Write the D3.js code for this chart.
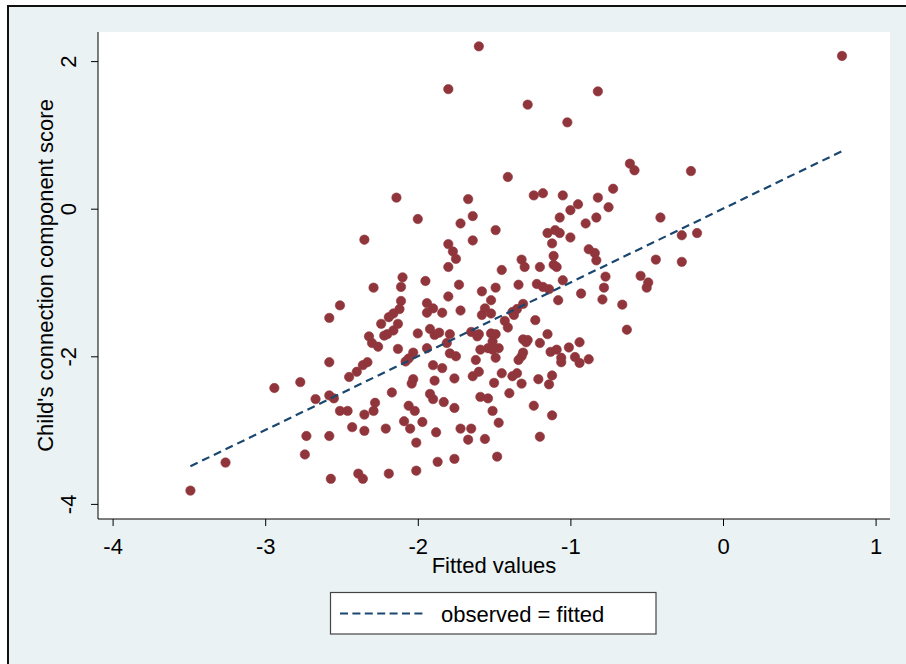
<!DOCTYPE html>
<html>
<head>
<meta charset="utf-8">
<script src="https://cdn.jsdelivr.net/npm/d3@7"></script>
<style>
  html, body { margin: 0; padding: 0; background: #ffffff; }
  svg { display: block; }
  text { font-family: "Liberation Sans", Arial, sans-serif; fill: #000; }
</style>
</head>
<body>
<div id="chart"></div>
<script>
// ---- Data ----
const xTitle = "Fitted values";
const yTitle = "Child's connection component score";
const legendLabel = "observed = fitted";
const xTicks = [-4, -3, -2, -1, 0, 1];
const yTicks = [-4, -2, 0, 2];

// fitted values (x) and observed scores (y), paired by index
const fittedValues = [
  -3.49, -3.26, -2.94, -2.77, -2.73, -2.74, -2.67, -2.58, -2.51, -2.58,
  -2.58, -2.55, -2.58, -2.57, -2.51,
  -2.14, -2.00, -1.64, -1.67, -1.72, -2.35, -1.64, -1.80, -1.77, -1.75,
  -1.80, -2.10, -2.11, -1.95, -2.29, -1.73, -1.80, -2.11, -2.12, -2.16,
  -2.19, -1.94, -1.90, -1.94, -1.84, -1.72, -2.24, -2.13, -2.16, -2.20,
  -2.22, -2.00, -1.92, -1.89, -1.86, -1.79, -1.81, -1.65, -1.61, -2.32,
  -2.30, -2.26, -2.13, -1.94, -1.79, -1.75, -2.03, -2.06, -2.08, -1.62,
  -2.33, -2.36, -2.40, -2.45, -1.90, -1.84, -2.03, -2.04, -1.89, -1.76,
  -1.64, -2.17, -1.92, -1.90, -1.83, -1.76, -1.59, -2.46, -2.28, -2.29,
  -2.35, -2.06, -2.02, -2.43, -2.35, -2.21, -2.09, -2.05, -1.97, -1.88,
  -1.72, -1.65, -1.67, -2.01, -1.87, -1.76, -2.39, -2.36, -2.19, -2.01,
  -1.80, -1.60,
  -1.41, -1.24, -1.18, -1.05, -0.82, -0.95, -1.00, -1.07, -0.83, -0.90,
  -1.49, -1.15, -1.10, -1.07, -1.00, -1.12, -0.88, -0.84, -0.83, -1.11,
  -1.11, -1.09, -1.32, -1.30, -1.20, -1.45, -0.77, -1.05, -1.22, -1.18,
  -1.14, -1.34, -1.49, -1.58, -0.93, -0.78, -0.79, -1.52, -1.08, -1.31,
  -1.35, -1.38, -1.37, -1.56, -1.58, -1.52, -1.23, -1.43, -1.41, -1.60,
  -1.52, -1.49, -1.51, -1.47, -1.31, -1.28, -1.29, -1.15, -1.20, -1.59,
  -1.54, -1.51, -1.31, -1.32, -1.34, -1.13, -1.09, -1.06, -1.06, -1.01,
  -0.97, -0.94, -0.94, -0.88, -1.49, -1.60, -1.45, -1.38, -1.35, -1.32,
  -1.50, -1.21, -1.12, -1.14, -1.40, -1.54, -1.24, -1.51, -1.47, -1.12,
  -1.56, -1.20, -1.48, -1.28, -1.02, -0.82,
  -0.61, -0.58, -0.21, -0.72, -0.75, -0.41, -0.27, -0.17, -0.44, -0.27,
  -0.54, -0.49, -0.50, -0.66, -0.63, 0.78
];
const observedScores = [
  -3.82, -3.44, -2.43, -2.35, -3.08, -3.33, -2.58, -1.48, -1.31, -2.08,
  -2.53, -2.57, -3.08, -3.66, -2.74,
  0.15, -0.14, -0.10, 0.13, -0.20, -0.42, -0.43, -0.48, -0.58, -0.68,
  -0.79, -0.93, -1.06, -0.98, -1.07, -1.03, -1.19, -1.25, -1.36, -1.42,
  -1.47, -1.28, -1.35, -1.41, -1.41, -1.38, -1.56, -1.56, -1.65, -1.70,
  -1.72, -1.69, -1.63, -1.71, -1.68, -1.70, -1.82, -1.67, -1.73, -1.73,
  -1.82, -1.87, -1.90, -1.89, -1.96, -2.00, -1.95, -2.03, -2.07, -2.05,
  -2.08, -2.12, -2.21, -2.28, -2.12, -2.16, -2.31, -2.37, -2.33, -2.30,
  -2.27, -2.49, -2.51, -2.58, -2.62, -2.70, -2.55, -2.74, -2.63, -2.74,
  -2.79, -2.67, -2.74, -2.96, -3.01, -2.98, -2.88, -2.98, -2.89, -3.03,
  -2.98, -2.98, -3.13, -3.17, -3.43, -3.39, -3.59, -3.66, -3.59, -3.55,
  1.62, 2.20,
  0.43, 0.18, 0.21, 0.18, 0.15, 0.06, -0.02, -0.12, -0.12, -0.20,
  -0.29, -0.33, -0.29, -0.33, -0.39, -0.47, -0.55, -0.60, -0.70, -0.64,
  -0.76, -0.79, -0.69, -0.79, -0.79, -0.83, -0.92, -0.97, -1.02, -1.06,
  -1.09, -1.03, -1.07, -1.12, -1.15, -1.07, -1.23, -1.24, -1.24, -1.29,
  -1.36, -1.40, -1.44, -1.35, -1.44, -1.42, -1.51, -1.52, -1.61, -1.70,
  -1.69, -1.70, -1.80, -1.89, -1.77, -1.78, -1.81, -1.70, -1.82, -1.91,
  -1.89, -1.91, -1.95, -2.00, -2.05, -1.94, -1.91, -2.02, -2.08, -1.88,
  -2.01, -2.09, -1.81, -2.04, -2.02, -2.21, -2.23, -2.27, -2.23, -2.37,
  -2.36, -2.31, -2.26, -2.38, -2.50, -2.57, -2.67, -2.74, -2.90, -2.80,
  -3.12, -3.09, -3.36, 1.41, 1.17, 1.59,
  0.61, 0.52, 0.51, 0.27, 0.02, -0.12, -0.36, -0.33, -0.69, -0.72,
  -0.91, -1.00, -1.07, -1.30, -1.64, 2.07
];
// extent of the "observed = fitted" reference line
const fitLineRange = [-3.49, 0.78];

// ---- Layout ----
const W = 906, H = 664;
const plot = { left: 98, right: 890, top: 32, bottom: 519 };
const colors = {
  graphBg: "#EAF2F3",
  marker: "#90353B",
  line: "#1A476F",
  axis: "#000000"
};
const fontSize = 22;

const svg = d3.select("#chart").append("svg")
  .attr("width", W).attr("height", H);

// page + outer frame
svg.append("rect").attr("x", 0).attr("y", 0).attr("width", W).attr("height", H).attr("fill", "#ffffff");
svg.append("rect").attr("x", 8).attr("y", 6).attr("width", W + 20).attr("height", H + 20)
  .attr("fill", colors.graphBg).attr("stroke", "#111").attr("stroke-width", 2);

// plot region
svg.append("rect")
  .attr("x", plot.left).attr("y", plot.top)
  .attr("width", plot.right - plot.left).attr("height", plot.bottom - plot.top)
  .attr("fill", "#ffffff");

const x = d3.scaleLinear().domain([-4, 1]).range([112.6, 875.6]);
const y = d3.scaleLinear().domain([-4, 2]).range([503.9, 61.1]);

// hyphen-minus tick labels, as in the reference
const tickFmt = d => String(d);

// axes
const xAxis = svg.append("g").attr("transform", `translate(0,${plot.bottom})`)
  .call(d3.axisBottom(x).tickValues(xTicks).tickSize(7).tickPadding(3).tickFormat(tickFmt));
const yAxis = svg.append("g").attr("transform", `translate(${plot.left},0)`)
  .call(d3.axisLeft(y).tickValues(yTicks).tickSize(7).tickFormat(tickFmt));

[xAxis, yAxis].forEach(g => {
  g.select(".domain").remove();
  g.selectAll(".tick line").attr("stroke", colors.axis).attr("stroke-width", 1);
  g.selectAll(".tick text").attr("font-size", fontSize).attr("fill", "#000")
    .style("font-family", '"Liberation Sans", Arial, sans-serif');
});
xAxis.selectAll(".tick text").attr("dy", null).attr("y", 35);
yAxis.selectAll(".tick text")
  .attr("text-anchor", "middle").attr("dy", null)
  .attr("x", 0).attr("y", -22)
  .attr("transform", "rotate(-90)");

// axis lines
svg.append("line").attr("x1", plot.left).attr("x2", plot.right)
  .attr("y1", plot.bottom).attr("y2", plot.bottom).attr("stroke", colors.axis).attr("stroke-width", 1);
svg.append("line").attr("x1", plot.left).attr("x2", plot.left)
  .attr("y1", plot.top).attr("y2", plot.bottom).attr("stroke", colors.axis).attr("stroke-width", 1);

// titles
svg.append("text")
  .attr("x", (plot.left + plot.right) / 2).attr("y", 573)
  .attr("text-anchor", "middle").attr("font-size", fontSize)
  .text(xTitle);
svg.append("text")
  .attr("transform", `translate(53,${(plot.top + plot.bottom) / 2}) rotate(-90)`)
  .attr("text-anchor", "middle").attr("font-size", fontSize)
  .text(yTitle);

// points
const pts = fittedValues.map((v, i) => ({ fx: v, obs: observedScores[i] }));
svg.append("g").selectAll("circle").data(pts).join("circle")
  .attr("cx", d => x(d.fx)).attr("cy", d => y(d.obs))
  .attr("r", 4.7)
  .attr("fill", colors.marker)
  .attr("stroke", colors.marker).attr("stroke-width", 0.6);

// reference line observed = fitted
const lineGen = d3.line().x(d => x(d)).y(d => y(d));
svg.append("path")
  .datum(fitLineRange)
  .attr("d", lineGen)
  .attr("fill", "none")
  .attr("stroke", colors.line).attr("stroke-width", 2.2)
  .attr("stroke-dasharray", "8,5");

// legend
const lg = svg.append("g");
lg.append("rect").attr("x", 330.5).attr("y", 592.5).attr("width", 325.5).attr("height", 41.5)
  .attr("fill", "#ffffff").attr("stroke", "#444").attr("stroke-width", 1.2);
lg.append("line").attr("x1", 340).attr("x2", 426).attr("y1", 613.5).attr("y2", 613.5)
  .attr("stroke", colors.line).attr("stroke-width", 2.2).attr("stroke-dasharray", "8,4.4");
lg.append("text").attr("x", 441).attr("y", 621.5).attr("font-size", fontSize)
  .text(legendLabel);
</script>
</body>
</html>
